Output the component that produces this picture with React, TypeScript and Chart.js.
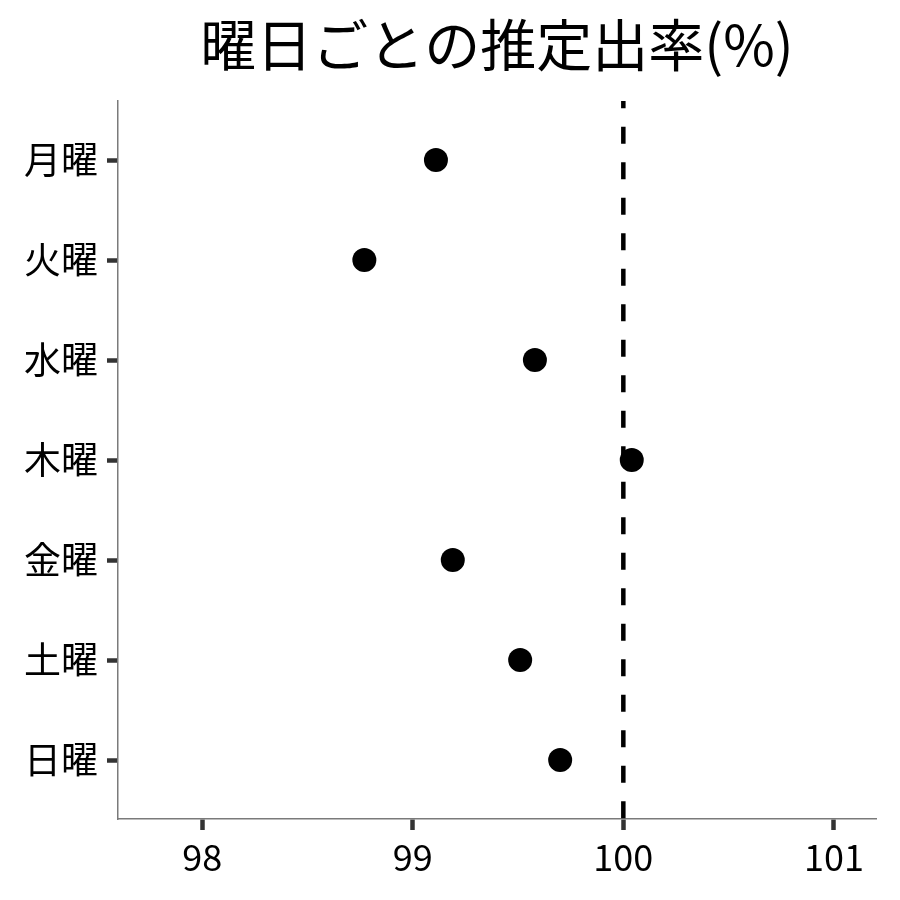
import { useEffect, useRef } from 'react'
import Chart from 'chart.js/auto'

const days = ['月曜', '火曜', '水曜', '木曜', '金曜', '土曜', '日曜']
const rates = [99.11, 98.77, 99.58, 100.04, 99.19, 99.51, 99.7]
const refLine = 100
const xTicks = [98, 99, 100, 101]

const FONT = '"Noto Sans CJK JP", "Noto Sans", sans-serif'

const axisGrid = {
  display: true,
  drawOnChartArea: false,
  drawTicks: true,
  color: '#333',
  lineWidth: 1,
  tickLength: 11,
  tickWidth: 4.5,
  tickColor: '#333'
}

export default function App() {
  const chartRef = useRef<HTMLCanvasElement>(null)

  useEffect(() => {
    if (!chartRef.current) return
    const ctx = chartRef.current.getContext('2d')
    if (!ctx) return

    const yMin = -0.59
    const yMax = days.length - 1 + 0.59

    const chart = new Chart(ctx, {
      type: 'scatter',
      data: {
        datasets: [
          {
            type: 'scatter',
            data: rates.map((v, i) => ({ x: v, y: i })),
            backgroundColor: '#000',
            borderWidth: 0,
            pointRadius: 12,
            order: 0
          },
          {
            type: 'line',
            data: [{ x: refLine, y: yMin }, { x: refLine, y: yMax }],
            borderColor: '#000',
            borderWidth: 4.5,
            borderDash: [17, 18.5],
            borderDashOffset: 9.8,
            pointRadius: 0,
            order: 1
          }
        ]
      },
      options: {
        responsive: true,
        maintainAspectRatio: false,
        animation: false,
        events: [],
        layout: { padding: { left: 0, right: 24, top: 0, bottom: 0 } },
        plugins: {
          legend: { display: false },
          tooltip: { enabled: false },
          title: {
            display: true,
            text: '曜日ごとの推定出率(%)',
            color: '#000',
            fullSize: false,
            font: { family: FONT, size: 56, weight: 'normal' },
            padding: { top: 11, bottom: 22.8 }
          }
        },
        scales: {
          x: {
            type: 'linear',
            min: 97.6,
            max: 101.2,
            afterFit: (s: any) => { s.height = 81 },
            afterBuildTicks: (s: any) => { s.ticks = xTicks.map(v => ({ value: v })) },
            border: { display: true, color: '#7a7a7a', width: 1.5 },
            grid: axisGrid,
            ticks: {
              color: '#000',
              padding: 6,
              font: { family: FONT, size: 36 },
              maxRotation: 0
            }
          },
          y: {
            type: 'linear',
            reverse: true,
            min: yMin,
            max: yMax,
            afterFit: (s: any) => { s.width = 118 },
            afterBuildTicks: (s: any) => { s.ticks = days.map((_, i) => ({ value: i })) },
            border: { display: true, color: '#7a7a7a', width: 1.5 },
            grid: axisGrid,
            ticks: {
              color: '#000',
              padding: 9,
              font: { family: FONT, size: 37 },
              callback: (v: any) => days[v] ?? ''
            }
          }
        }
      }
    })

    return () => chart.destroy()
  }, [])

  return (
    <div style={{ position: 'fixed', left: 0, top: 0, width: 900, height: 900, background: '#fff' }}>
      <canvas ref={chartRef} />
    </div>
  )
}
